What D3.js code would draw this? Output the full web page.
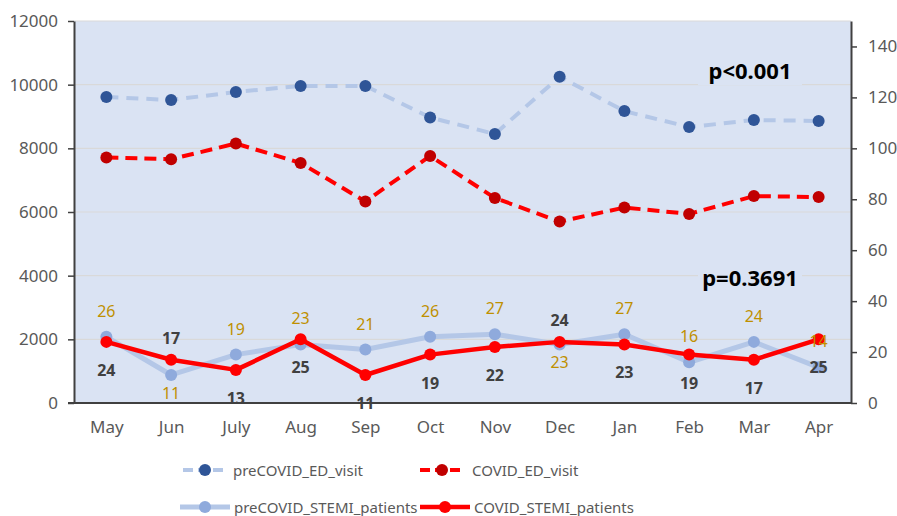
<!DOCTYPE html>
<html>
<head>
<meta charset="utf-8">
<script src="https://cdn.jsdelivr.net/npm/d3@7"></script>
<style>
  body { margin: 0; background: #fff; }
  svg text { font-family: "Noto Sans", "Open Sans", sans-serif; }
</style>
</head>
<body>
<div id="chart"></div>
<script>
var months = ['May', 'Jun', 'July', 'Aug', 'Sep', 'Oct', 'Nov', 'Dec', 'Jan', 'Feb', 'Mar', 'Apr'];
var preEdVisit = [9610, 9520, 9770, 9960, 9960, 8970, 8450, 10250, 9170, 8670, 8890, 8860];
var covidEdVisit = [7710, 7660, 8150, 7540, 6330, 7760, 6440, 5700, 6140, 5940, 6500, 6470];
var preStemi = [26, 11, 19, 23, 21, 26, 27, 23, 27, 16, 24, 14];
var covidStemi = [24, 17, 13, 25, 11, 19, 22, 24, 23, 19, 17, 25];
// label side for each month: 1 = above the point, -1 = below
var preLabelSide = [1, -1, 1, 1, 1, 1, 1, -1, 1, 1, 1, 1];
var covidLabelSide = [-1, 1, -1, -1, -1, -1, -1, 1, -1, -1, -1, -1];
var leftTicks = [0, 2000, 4000, 6000, 8000, 10000, 12000];
var rightTicks = [0, 20, 40, 60, 80, 100, 120, 140];

var width = 897, height = 516,
    pLeft = 74, pRight = 851, pTop = 21, pBottom = 403,
    plotBg = '#dae3f3';

var svg = d3.select('#chart').append('svg')
    .attr('width', width)
    .attr('height', height);

var x = d3.scalePoint().domain(months).range([pLeft, pRight]).padding(0.5);
var yL = d3.scaleLinear().domain([0, 12000]).range([pBottom, pTop]);
var yR = d3.scaleLinear().domain([0, 150]).range([pBottom, pTop]);

svg.append('rect')
    .attr('x', pLeft).attr('y', pTop)
    .attr('width', pRight - pLeft).attr('height', pBottom - pTop)
    .attr('fill', plotBg);

// gridlines
svg.append('g').selectAll('line')
    .data(leftTicks.slice(1))
    .enter().append('line')
    .attr('x1', pLeft).attr('x2', pRight)
    .attr('y1', function(d) { return yL(d); })
    .attr('y2', function(d) { return yL(d); })
    .attr('stroke', '#d9d9d9')
    .attr('stroke-width', 1.2);

// axes
function styleAxis(g) {
    g.selectAll('.domain').attr('stroke', '#404040').attr('stroke-width', 2);
    g.selectAll('.tick line').attr('stroke', '#404040').attr('stroke-width', 1.5);
    g.selectAll('.tick text').attr('fill', '#595959').style('font-size', '17px');
}

svg.append('g')
    .attr('transform', 'translate(' + pLeft + ',0)')
    .call(d3.axisLeft(yL).tickValues(leftTicks).tickSize(6).tickSizeOuter(0).tickPadding(10).tickFormat(d3.format('d')))
    .call(styleAxis);

svg.append('g')
    .attr('transform', 'translate(' + pRight + ',0)')
    .call(d3.axisRight(yR).tickValues(rightTicks).tickSize(6).tickSizeOuter(0).tickPadding(11))
    .call(styleAxis);

var xAxis = svg.append('g')
    .attr('transform', 'translate(0,' + pBottom + ')')
    .call(d3.axisBottom(x).tickSize(0).tickPadding(18))
    .call(styleAxis);
xAxis.select('.domain').attr('d', 'M' + (pLeft - 6) + ',0H' + pRight);

// series
var series = [
    { name: 'preCOVID_ED_visit', values: preEdVisit, y: yL, line: '#b4c7e7', dot: '#2f5597', width: 4, dash: '12,8' },
    { name: 'COVID_ED_visit', values: covidEdVisit, y: yL, line: '#ff0000', dot: '#c00000', width: 4, dash: '12,7' },
    { name: 'preCOVID_STEMI_patients', values: preStemi, y: yR, line: '#b4c7e7', dot: '#8faadc', width: 5, dash: null },
    { name: 'COVID_STEMI_patients', values: covidStemi, y: yR, line: '#ff0000', dot: '#ff0000', width: 4.5, dash: null }
];

series.forEach(function(s) {
    var line = d3.line()
        .x(function(d, i) { return x(months[i]); })
        .y(function(d) { return s.y(d); });
    svg.append('path')
        .datum(s.values)
        .attr('d', line)
        .attr('fill', 'none')
        .attr('stroke', s.line)
        .attr('stroke-width', s.width)
        .attr('stroke-linejoin', 'round')
        .attr('stroke-dasharray', s.dash);
    svg.append('g').selectAll('circle')
        .data(s.values)
        .enter().append('circle')
        .attr('cx', function(d, i) { return x(months[i]); })
        .attr('cy', function(d) { return s.y(d); })
        .attr('r', 6)
        .attr('fill', s.dot);
});

// data labels
svg.append('g').selectAll('text')
    .data(preStemi)
    .enter().append('text')
    .attr('x', function(d, i) { return x(months[i]); })
    .attr('y', function(d, i) { return yR(d) + (preLabelSide[i] > 0 ? -26 : 18); })
    .attr('text-anchor', 'middle')
    .attr('dominant-baseline', 'central')
    .attr('fill', '#bf9000')
    .style('font-size', '16px')
    .text(function(d) { return d; });

svg.append('g').selectAll('text')
    .data(covidStemi)
    .enter().append('text')
    .attr('x', function(d, i) { return x(months[i]); })
    .attr('y', function(d, i) { return yR(d) + (covidLabelSide[i] > 0 ? -22 : 28); })
    .attr('text-anchor', 'middle')
    .attr('dominant-baseline', 'central')
    .attr('fill', '#404040')
    .attr('font-weight', 'bold')
    .style('font-size', '16px')
    .text(function(d) { return d; });

// p-value notes
function note(txt, cx, cy) {
    var g = svg.append('g');
    var r = g.append('rect').attr('fill', plotBg);
    var t = g.append('text')
        .attr('x', cx).attr('y', cy)
        .attr('text-anchor', 'middle')
        .attr('dominant-baseline', 'central')
        .attr('font-weight', 'bold')
        .attr('fill', '#000')
        .style('font-size', '22px')
        .text(txt);
    var b = t.node().getBBox();
    r.attr('x', cx - 52).attr('y', b.y).attr('width', 104).attr('height', b.height);
}
note('p<0.001', 750, 70);
note('p=0.3691', 750, 277);

// legend
var legendPos = [[183, 470], [420, 470], [180, 507], [420, 507]];
series.forEach(function(s, i) {
    var lx = legendPos[i][0], ly = legendPos[i][1];
    var g = svg.append('g').attr('transform', 'translate(' + lx + ',' + ly + ')');
    g.append('line')
        .attr('x1', 0).attr('x2', s.dash ? 44 : 50)
        .attr('y1', 0).attr('y2', 0)
        .attr('stroke', s.line)
        .attr('stroke-width', s.width)
        .attr('stroke-dasharray', s.dash ? '10,5' : null);
    g.append('circle')
        .attr('cx', s.dash ? 22 : 25).attr('cy', 0).attr('r', 6)
        .attr('fill', s.dot);
    g.append('text')
        .attr('x', s.dash ? (i === 0 ? 50 : 52) : 54)
        .attr('y', 0)
        .attr('dominant-baseline', 'central')
        .attr('fill', '#595959')
        .style('font-size', '15px')
        .text(s.name);
});
</script>
</body>
</html>
